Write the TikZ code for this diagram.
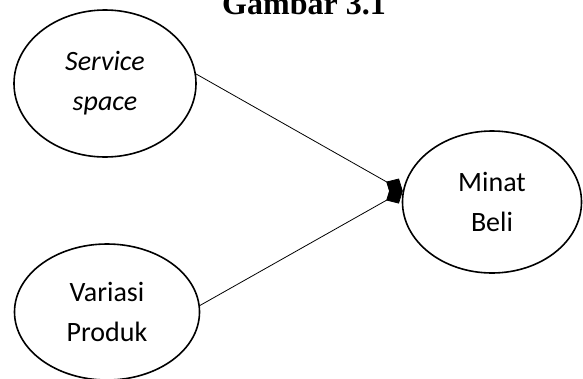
\documentclass[tikz,border=0pt]{standalone}
\usepackage{fontspec}
\setmainfont{Carlito}
\newfontfamily\titlefont{Liberation Serif}
\usetikzlibrary{shapes.geometric}
\usetikzlibrary{arrows.meta}
\begin{document}
\begin{tikzpicture}[x=1pt, y=-1pt, ovnode/.style={ellipse, draw=black, line width=1.6pt, inner sep=0pt, align=center, font=\fontsize{28}{40}\selectfont}, link/.style={line width=0.8pt, -{Diamond[length=19pt, width=18pt]}}]
	\useasboundingbox (0,0) rectangle (583,378);
	\node[anchor=base, font=\titlefont\bfseries\fontsize{32}{38}\selectfont] (title) at (304,14) {Gambar 3.1};
	\node[ovnode, minimum width=182pt, minimum height=147pt] (service) at (105,83.5) {\textit{Service}\\\textit{space}};
	\node[ovnode, minimum width=185pt, minimum height=136pt] (variasi) at (107,312) {Variasi\\Produk};
	\node[ovnode, minimum width=179pt, minimum height=142pt] (minat) at (492,202) {Minat\\Beli};
	\coordinate (tip) at (minat.173);
	\draw[link] (service.6) -- (tip);
	\draw[link] (variasi.4) -- (tip);
\end{tikzpicture}
\end{document}
